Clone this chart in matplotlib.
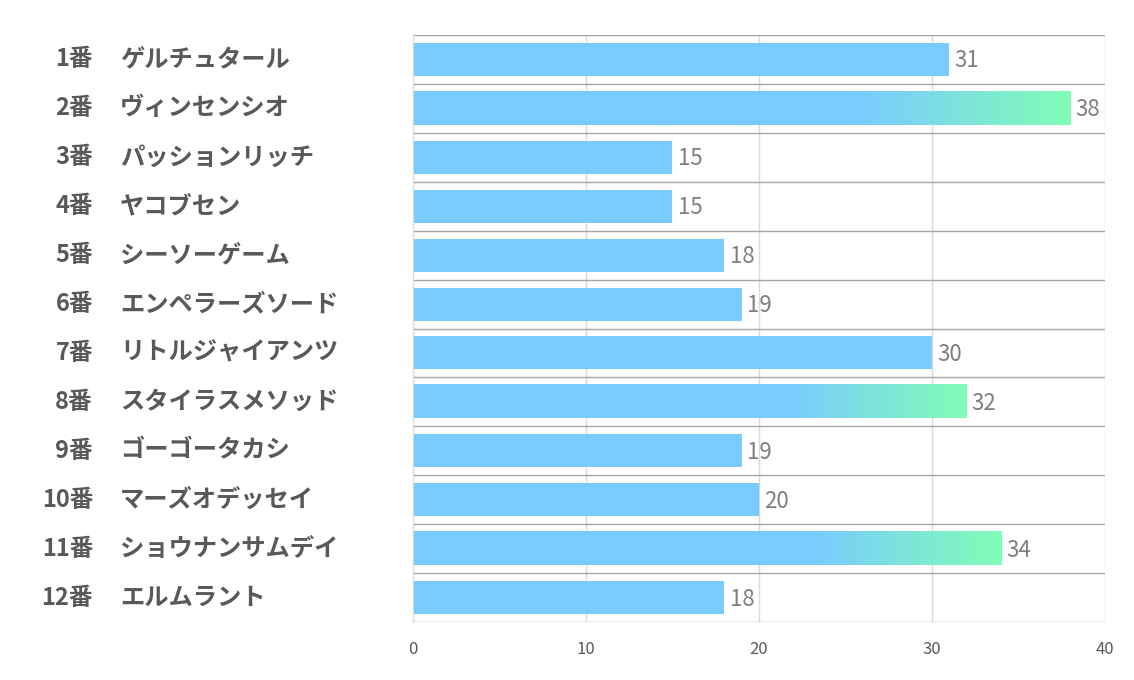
import numpy as np
import matplotlib.pyplot as plt
from matplotlib.transforms import blended_transform_factory
from matplotlib.colors import LinearSegmentedColormap

plt.rcParams['font.family'] = ['Noto Sans CJK JP', 'DejaVu Sans']

# データ
numbers = ['1番', '2番', '3番', '4番', '5番', '6番', '7番', '8番', '9番', '10番', '11番', '12番']
names = ['ゲルチュタール', 'ヴィンセンシオ', 'パッションリッチ', 'ヤコブセン', 'シーソーゲーム',
         'エンペラーズソード', 'リトルジャイアンツ', 'スタイラスメソッド', 'ゴーゴータカシ',
         'マーズオデッセイ', 'ショウナンサムデイ', 'エルムラント']
values = [31, 38, 15, 15, 18, 19, 30, 32, 19, 20, 34, 18]
highlight = [False, True, False, False, False, False, False, True, False, False, True, False]
x_ticks = [0, 10, 20, 30, 40]

blue = '#7ACBFF'
green = '#80FDB6'
grad_cmap = LinearSegmentedColormap.from_list('g', [(0, blue), (0.68, blue), (1, green)])

fig = plt.figure(figsize=(11.34, 6.8), dpi=100)
ax = fig.add_axes([0.3642, 0.0853, 0.9744 - 0.3642, 0.9485 - 0.0853])

n = len(values)
bar_h = 0.675
ax.set_xlim(0, 40)
ax.set_ylim(n - 0.5, -0.5)

for i, v in enumerate(values):
    if highlight[i]:
        grad = np.linspace(0, 1, 256).reshape(1, -1)
        ax.imshow(grad, cmap=grad_cmap, aspect='auto',
                  extent=[0, v, i + bar_h / 2, i - bar_h / 2], zorder=2)
    else:
        ax.barh(i, v, height=bar_h, color=blue, zorder=2)
    ax.text(v + 0.3, i + 0.03, str(v), va='center', ha='left', fontsize=16, color='#7f7f7f')

# 行の区切り線
for b in np.arange(-0.5, n + 0.5, 1):
    ax.axhline(b, color='#a6a6a6', linewidth=1, zorder=1)

ax.set_xticks(x_ticks)
ax.xaxis.grid(True, color='#d9d9d9', linewidth=1, zorder=0)
ax.set_axisbelow(True)
ax.set_yticks([])
ax.tick_params(axis='x', length=0, labelsize=12, labelcolor='#595959', pad=14)
for s in ['top', 'right', 'bottom']:
    ax.spines[s].set_visible(False)
ax.spines['left'].set_color('#d9d9d9')

trans = blended_transform_factory(fig.transFigure, ax.transData)
for i in range(n):
    ax.text(93 / 1134, i, numbers[i], transform=trans, ha='right', va='center',
            fontsize=17, fontweight='bold', color='#595959')
    ax.text(120 / 1134, i, names[i], transform=trans, ha='left', va='center',
            fontsize=17.5, fontweight='bold', color='#595959')

fig.savefig('out.png', dpi=100)
